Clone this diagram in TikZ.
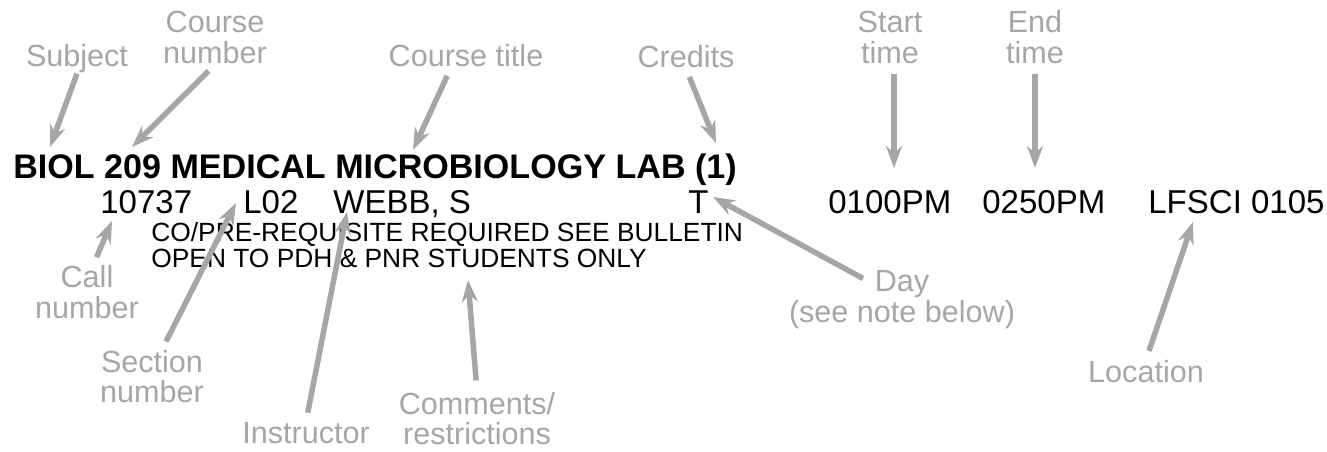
\documentclass[tikz,border=0pt]{standalone}
\usepackage{fontspec}
\setmainfont{Liberation Sans}
\usepackage{xcolor}
\usepackage{tikz}
\usetikzlibrary{arrows.meta}
\usetikzlibrary{positioning}
\definecolor{callgray}{HTML}{A6A6A6}
\tikzstyle{heading}=[anchor=base west,inner sep=0pt,font=\bfseries\fontsize{19.4}{20}\selectfont]
\tikzstyle{field}=[anchor=base west,inner sep=0pt,font=\fontsize{18.8}{20}\selectfont]
\tikzstyle{remark}=[anchor=base west,inner sep=0pt,font=\fontsize{15}{16}\selectfont]
\tikzstyle{callout}=[anchor=base,inner sep=0pt,text=callgray,font=\fontsize{17.4}{17.6}\selectfont]
\tikzstyle{nextline}=[callout,yshift=-17.6pt]
\tikzstyle{pointer}=[-{Stealth[length=0.44cm,width=0.32cm]},draw=callgray,line width=0.11cm,shorten <=0.18cm]

\begin{document}
\begin{tikzpicture}[x=0.02cm,y=-0.02cm]
\useasboundingbox (0,0) rectangle (1327,452);
% the course listing
\node[heading] (title) at (13,179) {BIOL 209 MEDICAL MICROBIOLOGY LAB (1)};
\node[field] (callno) at (100,214) {10737};
\node[field] (sect) at (243,214) {L02};
\node[field] (prof) at (333,214) {WEBB, S};
\node[field] (wday) at (688,214) {T};
\node[field] (tbeg) at (828,214) {0100PM};
\node[field] (tfin) at (982,214) {0250PM};
\node[field] (room) at (1148,214) {LFSCI 0105};
\node[remark] (rem1) at (151,242) {CO/PRE-REQUISITE REQUIRED SEE BULLETIN};
\node[remark] (rem2) at (151,268) {OPEN TO PDH \& PNR STUDENTS ONLY};
% labels above
\node[callout] (subj) at (77,67) {Subject};
\node[callout] (cnum) at (215,33) {Course};
\node[nextline] (cnum2) at (cnum.base) {number};
\node[callout] (ctitle) at (466,67) {Course title};
\node[callout] (cred) at (686,68) {Credits};
\node[callout] (st) at (890,33) {Start};
\node[nextline] (st2) at (st.base) {time};
\node[callout] (en) at (1035,33) {End};
\node[nextline] (en2) at (en.base) {time};
% labels below
\node[callout] (cl) at (87,288) {Call};
\node[nextline] (cl2) at (cl.base) {number};
\node[callout] (se) at (152,372) {Section};
\node[nextline] (se2) at (se.base) {number};
\node[callout] (ins) at (306,443) {Instructor};
\node[callout] (co) at (477,414) {Comments/};
\node[nextline] (co2) at (co.base) {restrictions};
\node[callout] (dy) at (902,292) {Day};
\node[nextline] (dy2) at (dy.base) {(see note below)};
\node[callout] (loc) at (1146,382) {Location};
% arrow tips
\coordinate (pSubj) at (50,147);
\coordinate (pCnum) at (132,147);
\coordinate (pTitle) at (413,150);
\coordinate (pCred) at (716,143);
\coordinate (pBeg) at (894,168);
\coordinate (pFin) at (1035,168);
\coordinate (pCall) at (112,221);
\coordinate (pSect) at (236,203);
\coordinate (pProf) at (347,212);
\coordinate (pRem) at (468,280);
\coordinate (pDay) at (713,197);
\coordinate (pRoom) at (1193,222);
\draw[pointer,shorten <=0pt] (subj.south) -- (pSubj);
\draw[pointer] (cnum2.south) -- (pCnum);
\draw[pointer] ([xshift=-0.3cm]ctitle.south) -- (pTitle);
\draw[pointer] (cred.south) -- (pCred);
\draw[pointer] (st2.south -| pBeg) -- (pBeg);
\draw[pointer] (en2.south -| pFin) -- (pFin);
\draw[pointer] ([xshift=0.12cm]cl.north) -- (pCall);
\draw[pointer] ([xshift=0.2cm]se.north) -- (pSect);
\draw[pointer] (ins.north) -- (pProf);
\draw[pointer,shorten <=0.22cm] (co.north) -- (pRem);
\draw[pointer,shorten <=0.26cm] (dy.west) -- (pDay);
\draw[pointer] (loc.north) -- (pRoom);
\end{tikzpicture}
\end{document}
